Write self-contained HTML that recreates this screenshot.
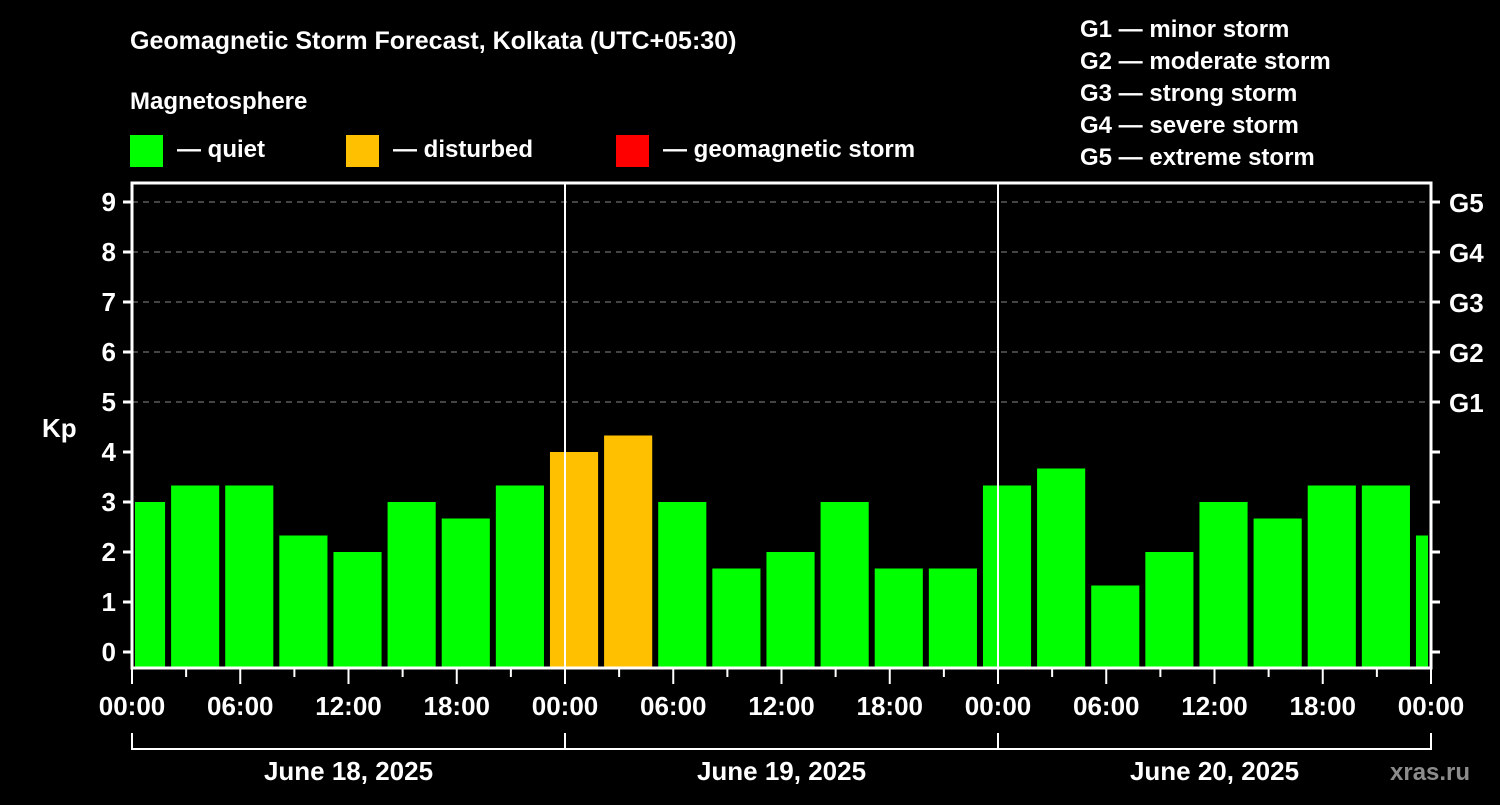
<!DOCTYPE html>
<html><head><meta charset="utf-8"><style>
html,body{margin:0;background:#000;}
text{font-family:"Liberation Sans",Arial,sans-serif;font-weight:bold;fill:#fff;}
</style></head><body>
<svg id="c" width="1500" height="800" xmlns="http://www.w3.org/2000/svg">
<text x="130" y="49" font-size="25">Geomagnetic Storm Forecast, Kolkata (UTC+05:30)</text>
<text x="130" y="109" font-size="24">Magnetosphere</text>
<g><rect x="130" y="135" width="33" height="32" fill="#00ff00"/><text x="177" y="157" font-size="24">— quiet</text></g>
<g><rect x="346" y="135" width="33" height="32" fill="#ffc000"/><text x="393" y="157" font-size="24">— disturbed</text></g>
<g><rect x="616" y="135" width="33" height="32" fill="#ff0000"/><text x="663" y="157" font-size="24">— geomagnetic storm</text></g>
<g font-size="24">
<text x="1080" y="37">G1 — minor storm</text><text x="1080" y="69">G2 — moderate storm</text><text x="1080" y="101">G3 — strong storm</text><text x="1080" y="133">G4 — severe storm</text><text x="1080" y="165">G5 — extreme storm</text></g>
<text x="42" y="437" font-size="26">Kp</text>
<g id="plot"></g>
<text x="1390" y="780" font-size="24" fill="#888" style="fill:#8c8c8c">xras.ru</text>
</svg>
<script>
const kpValues=[3,3.33,3.33,2.33,2,3,2.67,3.33,4,4.33,3,1.67,2,3,1.67,1.67,3.33,3.67,1.33,2,3,2.67,3.33,3.33,2.33];
const barHoursStart=-1; // first bar starts at local hour -1 (UTC 3h bins, +5:30)
const yTicks=[0,1,2,3,4,5,6,7,8,9];
const gLabels=["","","","","","G1","G2","G3","G4","G5"];
const xTickLabels=["00:00","06:00","12:00","18:00","00:00","06:00","12:00","18:00","00:00","06:00","12:00","18:00","00:00"];
const dayLabels=["June 18, 2025","June 19, 2025","June 20, 2025"];
const L=132,R=1431,T=183,B=668;
const xs=h=>L+(R-L)*h/72;
const ys=v=>652-50*v;
const NS="http://www.w3.org/2000/svg";
const P=document.getElementById('plot');
function mk(tag,a,parent){const e=document.createElementNS(NS,tag);for(const k in a)e.setAttribute(k,a[k]);(parent||P).appendChild(e);return e;}
// grid
yTicks.forEach((v,i)=>{
 if(v>=5){const g=mk('line',{x1:L,x2:R,y1:ys(v),y2:ys(v),stroke:'#888','stroke-dasharray':'6,5','stroke-width':1});
 
 }
 const t=mk('line',{x1:L-9,x2:L,y1:ys(v),y2:ys(v),stroke:'#fff','stroke-width':3});
 
 
 const lb=mk('text',{x:L-16,y:ys(v)+9,'font-size':26,'text-anchor':'end'});lb.textContent=v;
 
 
 const rt=mk('line',{x1:R,x2:R+9,y1:ys(v),y2:ys(v),stroke:'#fff','stroke-width':3});
 
 
 if(gLabels[i]){const gl=mk('text',{x:R+18,y:ys(v)+10,'font-size':26});gl.textContent=gLabels[i];
 
 }
});
// bars
kpValues.forEach((v,i)=>{
 let h0=barHoursStart+3*i, h1=h0+3;
 let x0=xs(h0)+3, x1=xs(h1)-3;
 x0=Math.max(x0,L+3); x1=Math.min(x1,R-3);
 const col=v>=5?'#ff0000':(v>=4?'#ffc000':'#00ff00');
 const b=mk('rect',{x:x0,y:ys(v),width:Math.max(0,x1-x0),height:B-ys(v),fill:col});
 
 
});
// day separators
[24,48].forEach(h=>{const l=mk('line',{x1:xs(h),x2:xs(h),y1:T,y2:B,stroke:'#fff','stroke-width':2});
 
 });
// frame
const fr=mk('rect',{x:L,y:T,width:R-L,height:B-T,fill:'none',stroke:'#fff','stroke-width':3});


// x ticks
for(let h=0;h<=72;h+=3){const major=h%6===0;
 const t=mk('line',{x1:xs(h),x2:xs(h),y1:B,y2:B+(major?16:9),stroke:'#fff','stroke-width':2});
 
 }
xTickLabels.forEach((s,i)=>{const t=mk('text',{x:xs(i*6),y:715,'font-size':26,'text-anchor':'middle'});t.textContent=s;
 
 });
// day bracket
const br=mk('path',{d:`M${xs(0)} 733 V749 H${xs(72)} V733 M${xs(24)} 733 V749 M${xs(48)} 733 V749`,stroke:'#fff','stroke-width':2,fill:'none'});


dayLabels.forEach((s,i)=>{const t=mk('text',{x:xs(12+24*i),y:780,'font-size':26,'text-anchor':'middle'});t.textContent=s;
 
 });
</script>
</body></html>
